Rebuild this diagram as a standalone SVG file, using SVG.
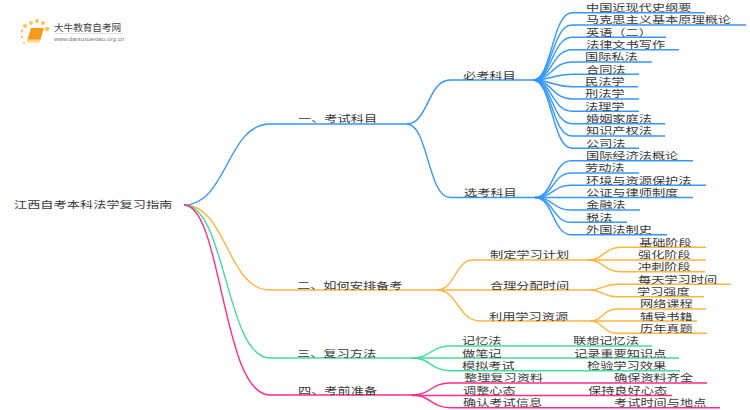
<svg xmlns="http://www.w3.org/2000/svg" width="750" height="410" viewBox="0 0 750 410">
<style>
text{font-family:"Noto Sans CJK SC","Noto Sans",sans-serif;font-size:9.6px;fill:#3a3a3a;transform-box:fill-box;transform-origin:0 50%;transform:scale(1.375,1)}
.lg{font-size:9.6px;fill:#444;transform:none}
.url{font-family:"Liberation Sans",sans-serif;font-size:6.2px;fill:#777;transform:none}
.c path{fill:none;stroke-width:1.4}
.b path{stroke:#3597ff}.o path{stroke:#fdb53f}.g path{stroke:#45dc9b}.p path{stroke:#ff2d8a}
</style>
<rect width="750" height="410" fill="#fff"/>
<g id="logo">
<g fill="#fbc65a"><circle cx="25" cy="26" r="2"/><circle cx="31" cy="23" r="2"/><circle cx="37" cy="21" r="2"/><circle cx="43" cy="23" r="2"/><circle cx="47" cy="29" r="2.3"/><circle cx="22" cy="31" r="1.4"/><circle cx="22" cy="37" r="1.2"/><circle cx="24" cy="43" r="1"/></g>
<path d="M31 28H44L40 41H27Z" fill="#f59a1c"/><path d="M28 39.500H40L39 42.500H27Z" fill="#ffd590"/>
<text class="lg" x="54" y="31">大牛教育自考网</text>
<path d="M54 33.500H122" stroke="#ccc" stroke-width="0.6"/>
<text class="url" x="54" y="41">www.daniuxuexiao.org.cn</text>
</g>
<g id="connectors" class="c">
<g class="b">
<path d="M184 205C227 205 227 124 270 124H407"/>
<path d="M407 124C428 124 428 80 450 80H533"/>
<path d="M407 124C428 124 428 197.500 450 197.500H535"/>
<path d="M533 80C552 80 552 12.700 572 12.700H705"/>
<path d="M533 80C552 80 552 25 572 25H746"/>
<path d="M533 80C552 80 552 37.300 572 37.300H666"/>
<path d="M533 80C552 80 552 49.700 572 49.700H679"/>
<path d="M533 80C552 80 552 62 572 62H652"/>
<path d="M533 80C552 80 552 74.300 572 74.300H639"/>
<path d="M533 80C552 80 552 86.700 572 86.700H638"/>
<path d="M533 80C552 80 552 99 572 99H639"/>
<path d="M533 80C552 80 552 111.300 572 111.300H639"/>
<path d="M533 80C552 80 552 123.700 572 123.700H665"/>
<path d="M533 80C552 80 552 136 572 136H665"/>
<path d="M533 80C552 80 552 148.300 572 148.300H639"/>
<path d="M535 197.500C553 197.500 553 160.700 571 160.700H693"/>
<path d="M535 197.500C553 197.500 553 173 571 173H639"/>
<path d="M535 197.500C553 197.500 553 185.300 571 185.300H706"/>
<path d="M535 197.500H693"/>
<path d="M535 197.500C553 197.500 553 210 571 210H640"/>
<path d="M535 197.500C553 197.500 553 222.300 571 222.300H627"/>
<path d="M535 197.500C553 197.500 553 234.700 571 234.700H667"/>
</g>
<g class="o">
<path d="M184 205C227 205 227 290 270 290H437"/>
<path d="M437 290C455 290 455 260 473 260H587"/>
<path d="M437 290H590"/>
<path d="M437 290C458 290 458 321 480 321H590"/>
<path d="M587 260C604 260 604 247.300 621 247.300H706"/>
<path d="M587 260H706"/>
<path d="M587 260C604 260 604 271.700 621 271.700H705"/>
<path d="M590 290C603 290 603 284.300 617 284.300H731"/>
<path d="M590 290C603 290 603 296.700 617 296.700H704"/>
<path d="M590 321C603 321 603 309 617 309H706"/>
<path d="M590 321H697"/>
<path d="M590 321C603 321 603 333.300 617 333.300H707"/>
</g>
<g class="g">
<path d="M184 205C226 205 226 358 270 358H412"/>
<path d="M412 358C431 358 431 346 450 346H652"/>
<path d="M412 358H679"/>
<path d="M412 358C431 358 431 370.700 450 370.700H680"/>
</g>
<g class="p">
<path d="M184 205C222 205 222 395 270 395H412"/>
<path d="M412 395C431 395 431 383 450 383H707"/>
<path d="M412 395.500H672"/>
<path d="M412 395C431 395 431 407.700 450 407.700H720"/>
</g>
</g>
<g id="root"><text x="14" y="208">江西自考本科法学复习指南</text></g>
<g id="n1"><text x="298" y="122">一、考试科目</text></g>
<g id="n11"><text x="463" y="79">必考科目</text></g>
<g id="n12"><text x="464" y="196">选考科目</text></g>
<g id="r1"><text x="586" y="11">中国近现代史纲要</text></g>
<g id="r2"><text x="586" y="23.500">马克思主义基本原理概论</text></g>
<g id="r3"><text x="586" y="36">英语（二）</text></g>
<g id="r4"><text x="586" y="48">法律文书写作</text></g>
<g id="r5"><text x="585" y="60.500">国际私法</text></g>
<g id="r6"><text x="586" y="73">合同法</text></g>
<g id="r7"><text x="585" y="85">民法学</text></g>
<g id="r8"><text x="585" y="97.500">刑法学</text></g>
<g id="r9"><text x="585" y="110">法理学</text></g>
<g id="r10"><text x="586" y="122">婚姻家庭法</text></g>
<g id="r11"><text x="586" y="134.500">知识产权法</text></g>
<g id="r12"><text x="586" y="147">公司法</text></g>
<g id="e1"><text x="586" y="159">国际经济法概论</text></g>
<g id="e2"><text x="585" y="171.500">劳动法</text></g>
<g id="e3"><text x="586" y="184">环境与资源保护法</text></g>
<g id="e4"><text x="586" y="196">公证与律师制度</text></g>
<g id="e5"><text x="586" y="208.500">金融法</text></g>
<g id="e6"><text x="586" y="221">税法</text></g>
<g id="e7"><text x="586" y="233">外国法制史</text></g>
<g id="n2"><text x="297" y="289">二、如何安排备考</text></g>
<g id="n21"><text x="490" y="258.500">制定学习计划</text></g>
<g id="n22"><text x="490" y="289">合理分配时间</text></g>
<g id="n23"><text x="489" y="320">利用学习资源</text></g>
<g id="p1"><text x="639" y="246">基础阶段</text></g>
<g id="p2"><text x="638" y="258.500">强化阶段</text></g>
<g id="p3"><text x="638" y="270.500">冲刺阶段</text></g>
<g id="p4"><text x="638" y="283">每天学习时间</text></g>
<g id="p5"><text x="637" y="295">学习强度</text></g>
<g id="p6"><text x="640" y="307.500">网络课程</text></g>
<g id="p7"><text x="640" y="320">辅导书籍</text></g>
<g id="p8"><text x="640" y="332">历年真题</text></g>
<g id="n3"><text x="297" y="357">三、复习方法</text></g>
<g id="a1"><text x="462" y="344.500">记忆法</text><text x="573" y="344.500">联想记忆法</text></g>
<g id="a2"><text x="462" y="357">做笔记</text><text x="574" y="357">记录重要知识点</text></g>
<g id="a3"><text x="462" y="369">模拟考试</text><text x="587" y="369">检验学习效果</text></g>
<g id="n4"><text x="298" y="394">四、考前准备</text></g>
<g id="b1"><text x="464" y="381.500">整理复习资料</text><text x="614" y="381.500">确保资料齐全</text></g>
<g id="b2"><text x="463" y="394">调整心态</text><text x="588" y="394">保持良好心态</text></g>
<g id="b3"><text x="463" y="406">确认考试信息</text><text x="614" y="406">考试时间与地点</text></g>
</svg>
